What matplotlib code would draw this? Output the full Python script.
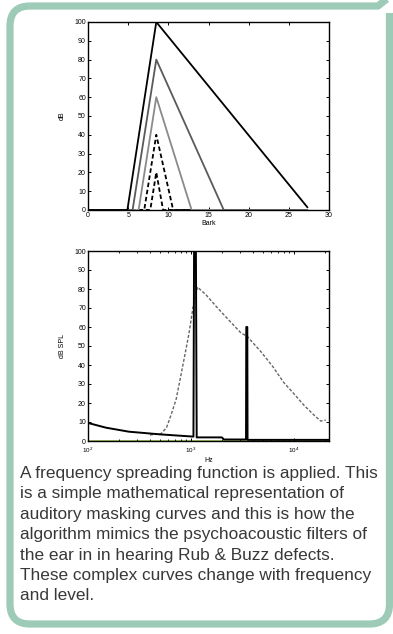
import matplotlib.pyplot as plt
from matplotlib.path import Path
from matplotlib.patches import PathPatch
import numpy as np

plt.rcParams['font.family'] = ['Liberation Sans', 'DejaVu Sans']

# top chart: spreading triangles in the bark domain
peak_bark = 8.5
levels = [100, 80, 60, 40, 20]
start_bark = [4.9, 5.55, 6.3, 7.0, 7.75]
end_bark = [27.3, 16.9, 12.9, 10.6, 9.35]
end_level = [1.5, 0, 0, 0, 0]
tri_colors = ['black', '#5a5a5a', '#8a8a8a', 'black', 'black']
tri_styles = ['-', '-', '-', '--', '--']

# bottom chart: threshold with two tones, and the spread masking curve
thr_hz = [100, 150, 250, 500, 1000, 1060, 1075, 1120, 1140, 2000, 2100,
          3440, 3460, 3540, 3560, 22050]
thr_db = [9.5, 7.0, 4.9, 3.5, 2.4, 2.3, 100, 100, 1.9, 1.9, 0.8,
          0.8, 60, 60, 0.6, 0.6]
mask_hz = [400, 512, 580, 640, 720, 800, 880, 955, 1020, 1070, 1160, 1400,
           1820, 2400, 3055, 3540, 4800, 6300, 7950, 10000, 12500, 15500,
           18300, 20500]
mask_db = [3.2, 3.8, 7, 13.5, 22, 34.5, 46, 56, 66, 73, 81, 77,
           70, 63, 57, 55, 47, 39, 31, 25, 19, 14, 10.5, 11]

caption = ("A frequency spreading function is applied. This\n"
           "is a simple mathematical representation of\n"
           "auditory masking curves and this is how the\n"
           "algorithm mimics the psychoacoustic filters of\n"
           "the ear in in hearing Rub & Buzz defects.\n"
           "These complex curves change with frequency\n"
           "and level.")

W, H = 393, 634
fig = plt.figure(figsize=(W / 100, H / 100), dpi=100)

# background panel with teal rounded border
bg = fig.add_axes([0, 0, 1, 1], zorder=-1)
bg.set_xlim(0, W)
bg.set_ylim(H, 0)
bg.axis('off')
teal = '#9ecbb8'
r = 20
L, R, T, B = 10, 389.5, 6, 624
verts = [(L + r, T), (378, T), (393, -6),
         (R, 13), (R, B - r), (R, B), (R - r, B), (L + r, B), (L, B), (L, B - r),
         (L, T + r), (L, T), (L + r, T)]
codes = [Path.MOVETO, Path.LINETO, Path.LINETO,
         Path.MOVETO, Path.LINETO, Path.CURVE3, Path.CURVE3, Path.LINETO,
         Path.CURVE3, Path.CURVE3, Path.LINETO, Path.CURVE3, Path.CURVE3]
bg.add_patch(PathPatch(Path(verts, codes), fill=False, edgecolor=teal,
                       lw=5.2, capstyle='butt', joinstyle='round'))
bg.text(20, 466, caption, va='top', ha='left', fontsize=12.4,
        color='#383838', linespacing=1.45)


def matlab_style(ax):
    ax.tick_params(direction='in', top=True, right=True, length=2.5,
                   width=0.7, labelsize=5, pad=1.5)
    ax.tick_params(which='minor', direction='in', top=True, right=True,
                   length=1.5, width=0.6)
    for s in ax.spines.values():
        s.set_linewidth(1.0)


ax1 = fig.add_axes([88 / W, 1 - 210 / H, 241 / W, 188 / H])
for i in range(len(levels)):
    xs = [0, start_bark[i], peak_bark, end_bark[i]]
    ys = [0, 0, levels[i], end_level[i]]
    if i > 0:
        xs.append(27.3)
        ys.append(0)
    ax1.plot(xs, ys, color=tri_colors[i], linestyle=tri_styles[i], lw=1.3,
             dashes=(2.5, 1.5) if tri_styles[i] == '--' else (None, None),
             zorder=6 - i)
ax1.set_xlim(0, 30)
ax1.set_ylim(0, 100)
ax1.set_xticks(range(0, 31, 5))
ax1.set_yticks(range(0, 101, 10))
ax1.set_xlabel('Bark', fontsize=5, labelpad=1)
ax1.set_ylabel('dB', fontsize=5, labelpad=6)
matlab_style(ax1)

ax2 = fig.add_axes([88 / W, 1 - 441 / H, 241 / W, 190 / H])
ax2.set_xscale('log')
ax2.axhline(0, color='#8fb33a', lw=1.8, zorder=1)
ax2.plot(mask_hz, mask_db, color='#666666', lw=1.0, dashes=(2.2, 1.3), zorder=2)
ax2.plot(thr_hz, thr_db, color='black', lw=1.4, zorder=3)
ax2.set_xlim(100, 22050)
ax2.set_ylim(0, 100)
ax2.set_yticks(range(0, 101, 10))
ax2.set_xlabel('Hz', fontsize=5, labelpad=1)
ax2.set_ylabel('dB SPL', fontsize=5, labelpad=6)
matlab_style(ax2)
ax2.tick_params(axis='x', labelsize=4.5, pad=3.5)

fig.savefig('out.png', dpi=100)
